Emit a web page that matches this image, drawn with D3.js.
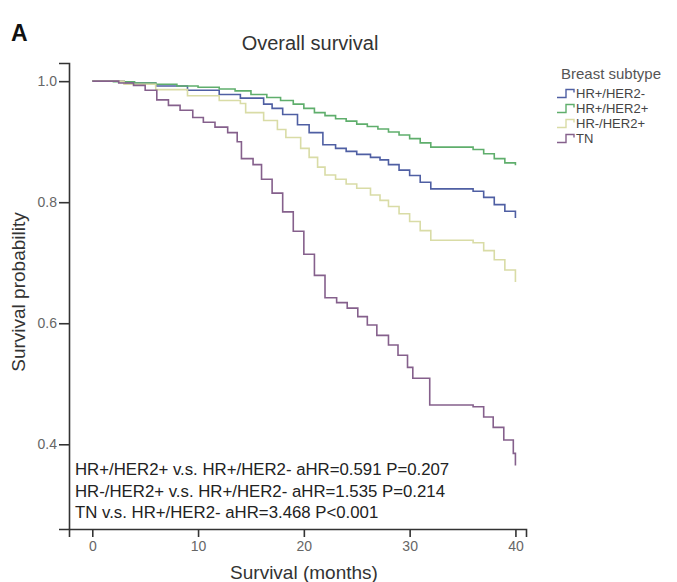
<!DOCTYPE html>
<html>
<head>
<meta charset="utf-8">
<script src="https://cdn.jsdelivr.net/npm/d3@7"></script>
<style>
  body { margin: 0; background: #fff; }
  text { font-family: "Liberation Sans", Arial, sans-serif; }
</style>
</head>
<body>
<script>
// Kaplan-Meier steps: [month, survival]
const hrPosHer2Neg = [[0,1],[3,0.997],[6,0.992],[9,0.985],[12,0.978],[14,0.972],[16.2,0.962],[17,0.955],[18,0.945],[19.4,0.928],[20.5,0.915],[21.8,0.895],[23,0.889],[24,0.884],[25,0.879],[26.3,0.874],[27.2,0.87],[28,0.862],[29,0.853],[30,0.844],[31,0.833],[32,0.822],[36,0.818],[37,0.808],[38,0.796],[39,0.785],[40,0.774]];
const hrPosHer2Pos = [[0,1],[2,0.999],[4,0.997],[6,0.995],[8,0.992],[10,0.99],[12,0.987],[13.5,0.984],[15,0.978],[16.5,0.973],[17.8,0.968],[19,0.962],[20,0.955],[21,0.948],[22,0.943],[23,0.938],[24,0.934],[25,0.929],[26,0.925],[27,0.921],[28,0.916],[29,0.911],[30,0.905],[31,0.898],[32,0.891],[36,0.887],[37,0.88],[38,0.872],[39,0.865],[40,0.861]];
const hrNegHer2Pos = [[0,1],[3,0.995],[6,0.986],[9,0.976],[12,0.968],[14,0.963],[14.5,0.948],[16.2,0.935],[17.5,0.92],[18.3,0.907],[19.7,0.889],[20.5,0.874],[21.3,0.858],[22,0.845],[23,0.838],[24,0.83],[25,0.823],[26.3,0.812],[27.2,0.803],[28,0.793],[29,0.781],[30,0.768],[31,0.753],[32,0.737],[36,0.733],[37,0.72],[38,0.705],[39,0.688],[40,0.668]];
const tripleNeg = [[0,1],[2.5,0.997],[3.9,0.993],[5,0.985],[6.1,0.969],[7.2,0.96],[8.3,0.952],[9.5,0.94],[10.5,0.932],[11.6,0.924],[12.8,0.915],[13.7,0.9],[14.1,0.872],[15.2,0.862],[16,0.838],[17,0.815],[18,0.784],[19,0.752],[20,0.714],[21,0.679],[22,0.642],[23.1,0.634],[24.1,0.625],[25.1,0.611],[26,0.597],[26.9,0.58],[28,0.564],[28.9,0.547],[29.8,0.527],[30.3,0.509],[31.9,0.465],[36,0.462],[37,0.445],[37.9,0.428],[38.9,0.407],[39.8,0.385],[40,0.365]];

const seriesNames = ["HR+/HER2-", "HR+/HER2+", "HR-/HER2+", "TN"];
const seriesColors = ["#4f5fa3", "#5fae6c", "#d9dca6", "#85608c"];
const xTicks = [0, 10, 20, 30, 40];
const yTicks = [0.4, 0.6, 0.8, 1.0];
const notes = [
  "HR+/HER2+ v.s. HR+/HER2- aHR=0.591 P=0.207",
  "HR-/HER2+ v.s. HR+/HER2- aHR=1.535 P=0.214",
  "TN v.s. HR+/HER2- aHR=3.468 P<0.001"
];

const curves = [hrPosHer2Neg, hrPosHer2Pos, hrNegHer2Pos, tripleNeg];

const W = 677, H = 582;
const svg = d3.select("body").append("svg")
    .attr("width", W)
    .attr("height", H);

// scales (axis frame runs a bit past the data range, as in the original)
const x = d3.scaleLinear().domain([-2.2, 41]).range([69, 526]);
const y = d3.scaleLinear().domain([0.26, 1.03]).range([529, 63]);

// panel letter + title
svg.append("text")
    .attr("x", 11).attr("y", 41)
    .attr("font-size", "23px").attr("font-weight", "bold")
    .attr("fill", "#111")
    .text("A");

svg.append("text")
    .attr("x", 310).attr("y", 50)
    .attr("text-anchor", "middle")
    .attr("font-size", "20px").attr("fill", "#333")
    .text("Overall survival");

// axes
const yAxis = svg.append("g")
    .attr("transform", `translate(${x.range()[0]},0)`)
    .call(d3.axisLeft(y).tickValues(yTicks).tickSize(10).tickPadding(2).tickFormat(d3.format(".1f")));

const xAxis = svg.append("g")
    .attr("transform", `translate(0,${y.range()[0]})`)
    .call(d3.axisBottom(x).tickValues(xTicks).tickSize(8).tickPadding(4));

[xAxis, yAxis].forEach(g => {
    g.select(".domain").attr("stroke", "#333").attr("stroke-width", 1.6);
    g.selectAll(".tick line").attr("stroke", "#333").attr("stroke-width", 1.6);
    g.selectAll(".tick text")
        .attr("font-family", "'Liberation Sans', Arial, sans-serif")
        .attr("font-size", "14px").attr("fill", "#666");
});

// axis titles
svg.append("text")
    .attr("transform", `translate(25,292) rotate(-90)`)
    .attr("text-anchor", "middle")
    .attr("font-size", "19px").attr("fill", "#333")
    .text("Survival probability");

svg.append("text")
    .attr("x", 304).attr("y", 579)
    .attr("text-anchor", "middle")
    .attr("font-size", "19px").attr("fill", "#333")
    .text("Survival (months)");

// step curves
const line = d3.line()
    .x(d => x(d[0]))
    .y(d => y(d[1]))
    .curve(d3.curveStepAfter);

svg.selectAll(".km")
    .data(curves)
    .enter().append("path")
    .attr("class", "km")
    .attr("fill", "none")
    .attr("stroke", (d, i) => seriesColors[i])
    .attr("stroke-width", 1.6)
    .attr("d", line);

// annotation
svg.selectAll(".note")
    .data(notes)
    .enter().append("text")
    .attr("class", "note")
    .attr("x", 75)
    .attr("y", (d, i) => 475 + i * 21.5)
    .attr("font-size", "16.8px").attr("fill", "#222")
    .text(d => d);

// legend
const legend = svg.append("g").attr("transform", "translate(557,0)");

legend.append("text")
    .attr("x", 4).attr("y", 79)
    .attr("font-size", "15px").attr("fill", "#555")
    .text("Breast subtype");

const item = legend.selectAll(".item")
    .data(seriesNames)
    .enter().append("g")
    .attr("class", "item")
    .attr("transform", (d, i) => `translate(0,${97.5 + i * 15})`);

item.append("path")
    .attr("fill", "none")
    .attr("stroke", (d, i) => seriesColors[i])
    .attr("stroke-width", 1.4)
    .attr("d", "M0,0H9V-8H17V-5");

item.append("text")
    .attr("x", 19).attr("y", 0)
    .attr("font-size", "13px").attr("fill", "#444")
    .text(d => d);
</script>
</body>
</html>
